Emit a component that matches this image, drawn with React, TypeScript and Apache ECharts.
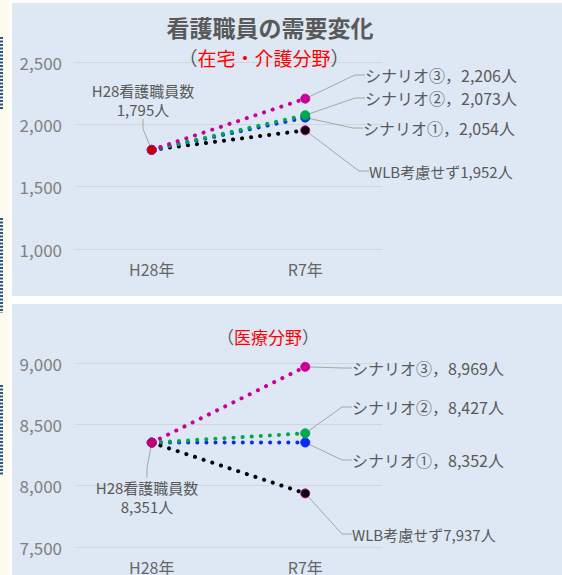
import React, { useEffect, useRef } from "react";
import * as echarts from "echarts";

const categories = ["H28年", "R7年"];
const seriesNames = ["WLB考慮せず", "シナリオ①", "シナリオ②", "シナリオ③"];

// 在宅・介護分野
const homeStart = 1795;
const homeWLB = [homeStart, 1952];
const homeS1 = [homeStart, 2054];
const homeS2 = [homeStart, 2073];
const homeS3 = [homeStart, 2206];
const homeTicks = [1000, 1500, 2000, 2500];

// 医療分野
const medStart = 8351;
const medWLB = [medStart, 7937];
const medS1 = [medStart, 8352];
const medS2 = [medStart, 8427];
const medS3 = [medStart, 8969];
const medTicks = [7500, 8000, 8500, 9000];

const COLORS = ["#000000", "#0a2cf0", "#00a850", "#cc0099"];
const FONT = "'Noto Sans CJK JP', 'Noto Sans', sans-serif";
const GRAY = "#595959";

const fmt = (v: number) => v.toLocaleString("en-US");

// label positions (layout only)
const LAYOUT: Record<string, { x: number; y: number; align: string }> = {
  "0-1": { x: 369, y: 171, align: "left" },
  "1-1": { x: 363, y: 128, align: "left" },
  "2-1": { x: 365, y: 98, align: "left" },
  "3-1": { x: 365, y: 75, align: "left" },
  "0-0": { x: 143, y: 100, align: "center" },
  "4-1": { x: 352, y: 534, align: "left" },
  "5-1": { x: 352, y: 460, align: "left" },
  "6-1": { x: 352, y: 407, align: "left" },
  "7-1": { x: 352, y: 368, align: "left" },
  "4-0": { x: 147, y: 497, align: "center" },
};

function endLabel(idx: number, v: number) {
  if (idx === 0) return `WLB考慮せず${fmt(v)}人`;
  const circ = ["①", "②", "③"][idx - 1];
  return `シナリオ${circ}，${fmt(v)}人`;
}

function buildSeries(gridIdx: number, datasets: number[][], startColor: string) {
  return datasets.map((d, i) => {
    const data: any[] = d.map((v, j) => {
      const item: any = { value: v };
      if (j === 1) {
        item.label =
          i === 0
            ? { show: true, formatter: endLabel(i, v) }
            : { show: true, formatter: endLabel(i, v), fontSize: 16, lineHeight: 16 };
      }
      if (j === 0 && i === 0) {
        item.label = { show: true, formatter: `H28看護職員数\n${fmt(v)}人` };
      }
      if (j === 0 && i === 3) {
        item.itemStyle = { color: startColor, borderColor: "#cc0099", borderWidth: 1 };
      }
      return item;
    });
    return {
      type: "line",
      name: seriesNames[i],
      xAxisIndex: gridIdx,
      yAxisIndex: gridIdx,
      data,
      z: 2 + i,
      symbol: "circle",
      symbolSize: 9,
      showSymbol: true,
      itemStyle: { color: COLORS[i], borderColor: i === 0 ? "#cc0099" : COLORS[i], borderWidth: 1 },
      lineStyle: { color: COLORS[i], width: 4, type: [0.1, 9], cap: "round" },
      label: {
        show: false,
        color: GRAY,
        fontFamily: FONT,
        fontSize: 15,
        lineHeight: 19,
      },
      labelLine: {
        show: true,
        length2: 10,
        lineStyle: { color: "#a6a6a6", width: 1 },
      },
      labelLayout: (params: any) => {
        const key = `${params.seriesIndex}-${params.dataIndex}`;
        const p = LAYOUT[key];
        if (!p) return {};
        return { x: p.x, y: p.y, align: p.align, verticalAlign: "middle" };
      },
    };
  });
}

export default function App() {
  const ref = useRef<HTMLDivElement>(null);
  useEffect(() => {
    if (!ref.current) return;
    const chart = echarts.init(ref.current, undefined, { renderer: "svg" });
    const yAxisBase = (min: number, max: number, ticks: number[]) => ({
      type: "value",
      min,
      max,
      interval: ticks[1] - ticks[0],
      axisLine: { show: false },
      axisTick: { show: false },
      axisLabel: {
        color: "#808080",
        fontFamily: FONT,
        fontSize: 17,
        margin: 13,
        formatter: (v: number) => fmt(v),
      },
      splitLine: { lineStyle: { color: "#d3d6d9", width: 1.2 } },
    });
    const xAxisBase = (gi: number) => ({
      type: "category",
      gridIndex: gi,
      data: categories,
      axisLine: { show: false },
      axisTick: { show: false },
      axisLabel: { color: "#666666", fontFamily: FONT, fontSize: 16, margin: 12 },
    });
    const dotted = (y1: number, y2: number) => ({
      type: "line",
      z: -5,
      shape: { x1: 1.5, y1, x2: 1.5, y2 },
      style: { stroke: "#2a5788", lineWidth: 3, lineDash: [2, 1.5] },
    });
    chart.setOption({
      animation: false,
      backgroundColor: "#ffffff",
      graphic: [
        { type: "rect", z: -10, shape: { x: 0, y: 0, width: 9, height: 575 }, style: { fill: "#fffaee" } },
        { type: "rect", z: -10, shape: { x: 12, y: 3, width: 550, height: 293 }, style: { fill: "#dde8f4" } },
        { type: "rect", z: -10, shape: { x: 12, y: 304, width: 550, height: 271 }, style: { fill: "#dde8f4" } },
        dotted(37, 110),
        dotted(218, 313),
        dotted(385, 475),
        {
          type: "text",
          z: 10,
          x: 270,
          y: 27,
          style: {
            text: "看護職員の需要変化",
            font: `bold 23px ${FONT}`,
            fill: GRAY,
            align: "center",
            verticalAlign: "middle",
          },
        },
        {
          type: "text",
          z: 10,
          x: 264,
          y: 57,
          style: {
            text: "（{r|在宅・介護分野}）",
            font: `19px ${FONT}`,
            fill: GRAY,
            align: "center",
            verticalAlign: "middle",
            rich: { r: { fill: "#ff0000", font: `19px ${FONT}` } },
          },
        },
        {
          type: "text",
          z: 10,
          x: 268,
          y: 336,
          style: {
            text: "（{r|医療分野}）",
            font: `17px ${FONT}`,
            fill: GRAY,
            align: "center",
            verticalAlign: "middle",
            rich: { r: { fill: "#ff0000", font: `17px ${FONT}` } },
          },
        },
      ],
      grid: [
        { left: 75, width: 307, top: 62, height: 187 },
        { left: 75, width: 307, top: 363, height: 188 },
      ],
      xAxis: [xAxisBase(0), xAxisBase(1)],
      yAxis: [
        { ...yAxisBase(homeTicks[0], homeTicks[homeTicks.length - 1], homeTicks), gridIndex: 0 },
        { ...yAxisBase(medTicks[0], medTicks[medTicks.length - 1], medTicks), gridIndex: 1 },
      ],
      series: [
        ...buildSeries(0, [homeWLB, homeS1, homeS2, homeS3], "#c00000"),
        ...buildSeries(1, [medWLB, medS1, medS2, medS3], "#c0006a"),
      ],
    });
    return () => chart.dispose();
  }, []);
  return (
    <div
      ref={ref}
      style={{ position: "fixed", left: 0, top: 0, width: 562, height: 575 }}
    />
  );
}
